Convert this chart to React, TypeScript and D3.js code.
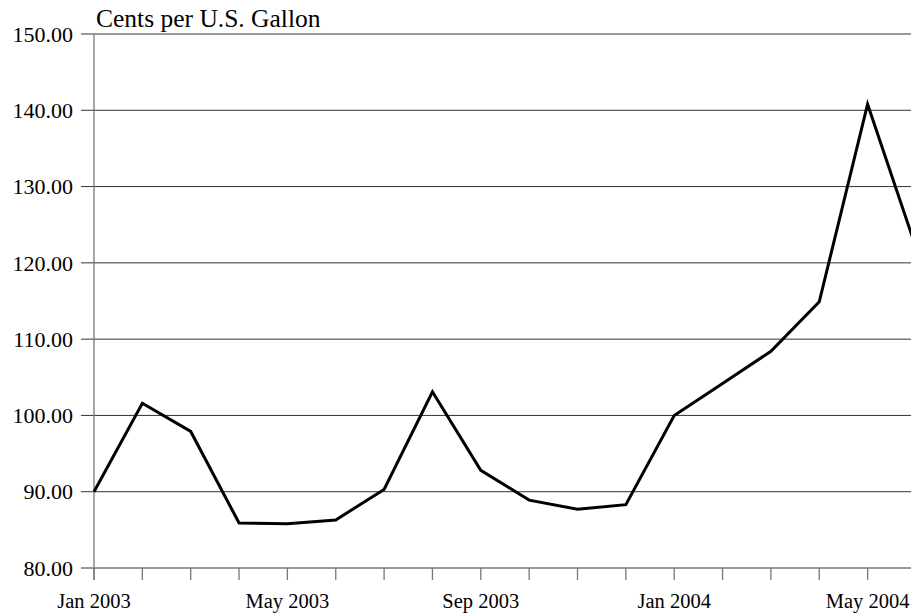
import React, { useEffect, useRef } from 'react';
import * as d3 from 'd3';

const months = [
  'Jan 2003', 'Feb 2003', 'Mar 2003', 'Apr 2003', 'May 2003', 'Jun 2003',
  'Jul 2003', 'Aug 2003', 'Sep 2003', 'Oct 2003', 'Nov 2003', 'Dec 2003',
  'Jan 2004', 'Feb 2004', 'Mar 2004', 'Apr 2004', 'May 2004', 'Jun 2004'
];
const cents = [
  90.0, 101.6, 97.9, 85.9, 85.8, 86.3, 90.3, 103.1, 92.8, 88.9, 87.7, 88.3,
  100.0, 104.2, 108.4, 114.9, 140.8, 122.0
];
const yTicks = [80, 90, 100, 110, 120, 130, 140, 150];
const labelEvery = 4;

const width = 911;
const height = 613;

const App: React.FC = () => {
  const svgRef = useRef<SVGSVGElement>(null);

  useEffect(() => {
    document.body.style.margin = '0';
    if (!svgRef.current) return;

    const svg = d3.select(svgRef.current);
    svg.selectAll('*').remove();

    const left = 94;
    const top = 34;
    const bottom = 568;

    const x = d3.scaleLinear()
      .domain([0, months.length - 1])
      .range([left, left + 17 * 48.35]);

    const y = d3.scaleLinear()
      .domain([80, 150])
      .range([bottom, top]);

    const font = '"Liberation Serif", "Times New Roman", serif';

    // horizontal grid lines (they run a bit past the axis as ticks)
    svg.append('g')
      .selectAll('line')
      .data(yTicks)
      .join('line')
      .attr('x1', left - 13)
      .attr('x2', width)
      .attr('y1', d => y(d))
      .attr('y2', d => y(d))
      .attr('stroke', '#333')
      .attr('stroke-width', 1);

    svg.append('g')
      .selectAll('text')
      .data(yTicks)
      .join('text')
      .attr('x', 73)
      .attr('y', d => y(d))
      .attr('dy', '0.35em')
      .attr('text-anchor', 'end')
      .attr('font-family', font)
      .attr('font-size', '22px')
      .attr('fill', '#000')
      .text(d => d.toFixed(2));

    // vertical axis
    svg.append('line')
      .attr('x1', left)
      .attr('x2', left)
      .attr('y1', top)
      .attr('y2', bottom + 12)
      .attr('stroke', '#777')
      .attr('stroke-width', 1.3);

    // month ticks
    svg.append('g')
      .selectAll('line')
      .data(months)
      .join('line')
      .attr('x1', (_, i) => x(i))
      .attr('x2', (_, i) => x(i))
      .attr('y1', bottom)
      .attr('y2', bottom + 12)
      .attr('stroke', '#777')
      .attr('stroke-width', 1.3);

    svg.append('g')
      .selectAll('text')
      .data(months.filter((_, i) => i % labelEvery === 0))
      .join('text')
      .attr('x', (_, i) => x(i * labelEvery))
      .attr('y', 608)
      .attr('text-anchor', 'middle')
      .attr('font-family', font)
      .attr('font-size', '20.5px')
      .attr('fill', '#000')
      .text(d => d);

    // title
    svg.append('text')
      .attr('x', 96)
      .attr('y', 27)
      .attr('font-family', font)
      .attr('font-size', '25.5px')
      .attr('fill', '#000')
      .text('Cents per U.S. Gallon');

    const line = d3.line<number>()
      .x((_, i) => x(i))
      .y(d => y(d));

    svg.append('path')
      .datum(cents)
      .attr('d', line)
      .attr('fill', 'none')
      .attr('stroke', '#000')
      .attr('stroke-width', 3)
      .attr('stroke-linejoin', 'miter');
  }, []);

  return (
    <svg
      ref={svgRef}
      width={width}
      height={height}
      style={{ display: 'block', background: '#fff' }}
    />
  );
};

export default App;
